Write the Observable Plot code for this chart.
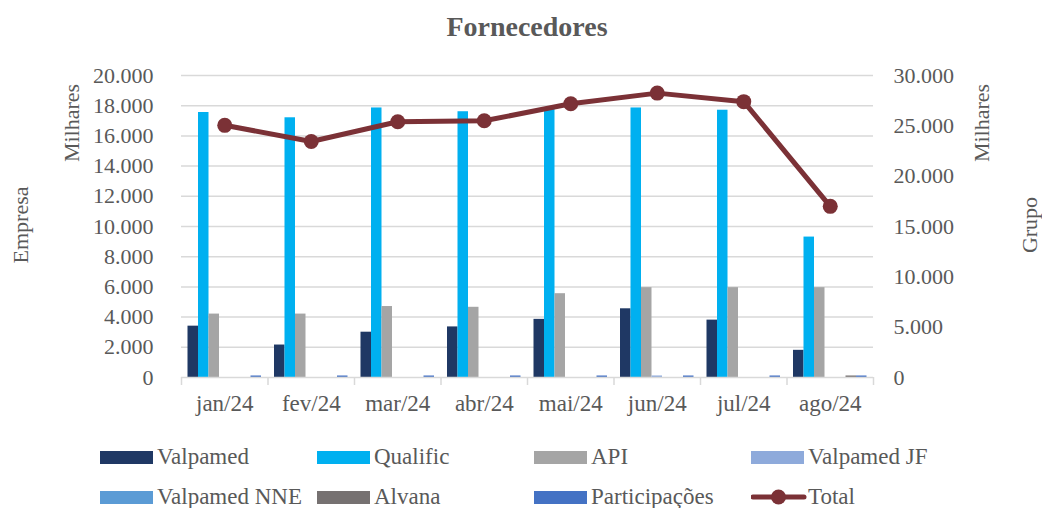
<!DOCTYPE html>
<html>
<head>
<meta charset="utf-8">
<script src="https://cdn.jsdelivr.net/npm/d3@7"></script>
<script src="https://cdn.jsdelivr.net/npm/@observablehq/plot@0.6"></script>
<style>
  html, body { margin: 0; padding: 0; background: #fff; }
  #wrap { position: relative; width: 1042px; height: 508px; overflow: hidden; font-family: "Liberation Serif", serif; color: #595959; background: #fff; }
  #title { position: absolute; top: 11px; left: 0; width: 1054px; text-align: center; font-size: 28px; font-weight: bold; line-height: 32px; font-family: "Liberation Serif", serif; }
  #chart { position: absolute; top: 50px; left: 0; }
  .vlab { position: absolute; font-size: 22px; white-space: nowrap; transform: translate(-50%, -50%) rotate(-90deg); line-height: 1; font-family: "Liberation Serif", serif; }
  #legend { position: absolute; left: 100px; top: 437px; }
  .row { display: flex; height: 40px; align-items: center; }
  .item { display: flex; align-items: center; width: 217px; font-size: 23px; white-space: nowrap; font-family: "Liberation Serif", serif; color: #595959; }
  .sw { display: inline-block; width: 53px; height: 13px; margin-right: 4px; }
</style>
</head>
<body>
<div id="wrap">
  <div id="title">Fornecedores</div>
  <div id="chart"></div>
  <div class="vlab" style="left:21px; top:225px;">Empresa</div>
  <div class="vlab" style="left:72px; top:123px;">Milhares</div>
  <div class="vlab" style="left:982px; top:123px;">Milhares</div>
  <div class="vlab" style="left:1030px; top:225px;">Grupo</div>
  <div id="legend"></div>
</div>
<script>
// ---- data ----
const months = ["jan/24","fev/24","mar/24","abr/24","mai/24","jun/24","jul/24","ago/24"];
const valpamed      = [3400, 2150, 3000, 3350, 3850, 4550, 3800, 1800];
const qualific      = [17550, 17200, 17850, 17600, 17750, 17850, 17700, 9300];
const api           = [4200, 4200, 4700, 4650, 5550, 5950, 5950, 5950];
const valpamedJF    = [0, 0, 0, 0, 0, 100, 0, 0];
const valpamedNNE   = [0, 0, 0, 0, 0, 0, 0, 0];
const alvana        = [0, 0, 0, 0, 0, 0, 0, 100];
const participacoes = [100, 100, 100, 100, 100, 100, 100, 100];
const total         = [25050, 23450, 25400, 25500, 27200, 28250, 27400, 17000];
const seriesNames   = ["Valpamed", "Qualific", "API", "Valpamed JF", "Valpamed NNE", "Alvana", "Participações"];
const seriesValues  = [valpamed, qualific, api, valpamedJF, valpamedNNE, alvana, participacoes];
const seriesColors  = ["#1f3864", "#00b0f0", "#a5a5a5", "#8eaadb", "#5b9bd5", "#767171", "#4472c4"];
const leftTicks  = d3.range(0, 20001, 2000);
const rightTicks = d3.range(0, 30001, 5000);
const lineColor = "#7b3136";

// ---- layout ----
const W = 1042, H = 380, mL = 181, mR = 169, mT = 25, mB = 53;
const bw = (W - mL - mR) / months.length;   // band width
const barW = 10.5, groupPad = 6.5;
const ratio = 20000 / 30000;                 // right axis -> left axis
const pxPerUnit = (H - mT - mB) / 20000;

const fmt = d3.formatLocale({decimal: ",", thousands: ".", grouping: [3], currency: ["", ""]}).format(",d");

const marks = [
  Plot.gridY(leftTicks.slice(1), {stroke: "#d9d9d9", strokeOpacity: 1, strokeWidth: 1.5}),
];
seriesValues.forEach((vals, i) => {
  const data = months.map((m, j) => ({month: m, value: vals[j]}));
  marks.push(Plot.barY(data, {
    x: "month", y: "value", fill: seriesColors[i],
    insetLeft: groupPad + i * barW,
    insetRight: bw - groupPad - (i + 1) * barW
  }));
});
marks.push(Plot.ruleY([0], {stroke: "#d9d9d9", strokeWidth: 1.5}));
// boundary ticks of the category axis
const tickLen = 8 / pxPerUnit;
marks.push(Plot.ruleX(months, {x: d => d, dx: -bw / 2, y1: 0, y2: -tickLen, stroke: "#d9d9d9", strokeWidth: 1.5}));
marks.push(Plot.ruleX(months.slice(-1), {x: d => d, dx: bw / 2, y1: 0, y2: -tickLen, stroke: "#d9d9d9", strokeWidth: 1.5}));

const totalData = months.map((m, j) => ({month: m, total: total[j]}));
marks.push(Plot.line(totalData, {x: "month", y: d => d.total * ratio, stroke: lineColor, strokeWidth: 5}));
marks.push(Plot.dot(totalData, {x: "month", y: d => d.total * ratio, r: 7.5, fill: lineColor, stroke: "none"}));

marks.push(Plot.axisX({tickSize: 0, tickPadding: 17, label: null, fontSize: 23}));
marks.push(Plot.axisY(leftTicks, {anchor: "left", tickSize: 0, tickPadding: 28, tickFormat: fmt, label: null, fontSize: 22}));
marks.push(Plot.axisY(rightTicks.map(t => t * ratio), {anchor: "right", tickSize: 0, tickPadding: 20, tickFormat: d => fmt(Math.round(d / ratio)), label: null, fontSize: 22}));

const chart = Plot.plot({
  width: W, height: H,
  marginLeft: mL, marginRight: mR, marginTop: mT, marginBottom: mB,
  x: {type: "band", domain: months, padding: 0, round: false},
  y: {domain: [0, 20000]},
  style: {fontFamily: "Liberation Serif, serif", color: "#595959", background: "transparent", overflow: "visible"},
  marks
});
document.getElementById("chart").appendChild(chart);

// ---- legend ----
const legend = document.getElementById("legend");
const items = seriesNames.map((n, i) => ({name: n, color: seriesColors[i], type: "bar"}));
items.push({name: "Total", color: lineColor, type: "line"});
for (let r = 0; r < 2; r++) {
  const row = document.createElement("div");
  row.className = "row";
  items.slice(r * 4, r * 4 + 4).forEach(it => {
    const el = document.createElement("div");
    el.className = "item";
    if (it.type === "bar") {
      el.innerHTML = `<span class="sw" style="background:${it.color}"></span><span>${it.name}</span>`;
    } else {
      el.innerHTML = `<svg width="57" height="18"><line x1="2" x2="53" y1="9" y2="9" stroke="${it.color}" stroke-width="5" stroke-linecap="round"/><circle cx="27.5" cy="9" r="7.5" fill="${it.color}"/></svg><span>${it.name}</span>`;
    }
    row.appendChild(el);
  });
  legend.appendChild(row);
}
</script>
</body>
</html>
